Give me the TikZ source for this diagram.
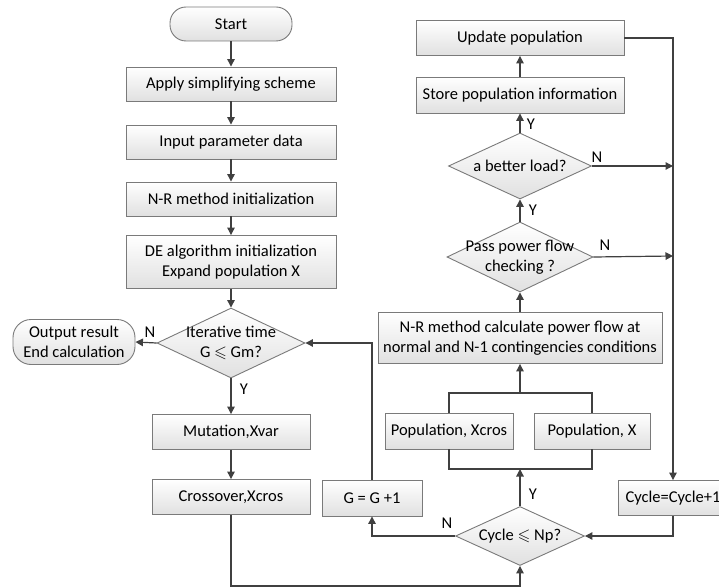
\documentclass[tikz,border=0pt]{standalone}
\usepackage{amssymb}
\usepackage{fontspec}
\setmainfont{Carlito}
\usetikzlibrary{arrows.meta,shapes.geometric}
\definecolor{lnc}{HTML}{404040}
\definecolor{bdc}{HTML}{7A7A7A}
\tikzset{
  box/.style={draw=bdc, line width=0.9pt, top color=white, bottom color=black!12, inner sep=0pt, align=center, font=\fontsize{16.5}{19.5}\selectfont},
  rbox/.style={box, rounded corners=16pt},
  dia/.style={draw=bdc, line width=0.9pt, diamond, top color=white, bottom color=black!12, inner sep=0pt, shape aspect=2},
  dtext/.style={align=center, inner sep=0pt, font=\fontsize{16.5}{19.5}\selectfont},
  lab/.style={inner sep=0pt, font=\fontsize{16.5}{19.5}\selectfont},
  conn/.style={draw=lnc, line width=1.2pt},
  arr/.style={conn, -{Triangle[length=7.5pt,width=7.5pt]}}
}
\begin{document}
\begin{tikzpicture}[x=1pt,y=-1pt]
\useasboundingbox (0,0) rectangle (719,588);
\clip (0,0) rectangle (719,588);
% left column
\node[rbox, minimum width=122pt, minimum height=34pt] (start) at (231,24) {Start};
\node[box, minimum width=210pt, minimum height=34pt] (apply) at (231,84) {Apply simplifying scheme};
\node[box, minimum width=210pt, minimum height=34pt] (input) at (231,142) {Input parameter data};
\node[box, minimum width=210pt, minimum height=34pt] (nrinit) at (231,199) {N-R method initialization};
\node[box, minimum width=210pt, minimum height=53pt] (de) at (231,262) {DE algorithm initialization\\Expand population X};
\node[dia, minimum width=148pt, minimum height=70pt] (iter) at (231,343) {};
\node[dtext] (itert) at (iter.center) {Iterative time\\G \(\leqslant\) Gm?};
\node[rbox, minimum width=122pt, minimum height=45pt, rounded corners=18pt] (out) at (74,342) {Output result\\End calculation};
\node[box, minimum width=158pt, minimum height=35pt] (mut) at (231,432) {Mutation,Xvar};
\node[box, minimum width=158pt, minimum height=35pt] (cross) at (231,497) {Crossover,Xcros};
\node[box, minimum width=100pt, minimum height=36pt] (gplus) at (372,498) {G = G +1};
% right column
\node[dia, minimum width=129pt, minimum height=59pt] (cyc) at (520,536) {};
\node[dtext] (cyct) at (cyc.center) {Cycle \(\leqslant\) Np?};
\node[box, minimum width=128pt, minimum height=36pt] (popa) at (449,431) {Population, Xcros};
\node[box, minimum width=116pt, minimum height=36pt] (popb) at (592,431) {Population, X};
\node[box, minimum width=284pt, minimum height=51pt] (nrcalc) at (520,338) {N-R method calculate power flow at\\normal and N-1 contingencies conditions};
\node[dia, minimum width=146pt, minimum height=70pt] (pass) at (520,257) {};
\node[dtext] (passt) at (pass.center) {Pass power flow\\checking ?};
\node[dia, minimum width=143pt, minimum height=66pt] (better) at (520,166) {};
\node[dtext] (bettert) at (better.center) {a better load?};
\node[box, minimum width=208pt, minimum height=36pt] (store) at (520,95) {Store population information};
\node[box, minimum width=208pt, minimum height=35pt] (update) at (520,38) {Update population};
\node[box, minimum width=110pt, minimum height=35pt] (cycp) at (673,498) {Cycle=Cycle+1};
% coordinates
\coordinate (btop) at (520,393);
\coordinate (bbot) at (520,469);
\coordinate (pa) at (673,256);
\coordinate (ba) at (673,166);
\coordinate (low) at (231,586);
% connectors left
\draw[arr] (start) -- (apply);
\draw[arr] (apply) -- (input);
\draw[arr] (input) -- (nrinit);
\draw[arr] (nrinit) -- (de);
\draw[arr] (de) -- (iter.north);
\draw[arr] (iter.west) -- (out.east);
\draw[arr] (iter.south) -- (mut);
\draw[arr] (mut) -- (cross);
\draw[arr] (cross.south) -- (low) -| (cyc.south);
\draw[arr] (gplus.north) |- (iter.east);
\draw[arr] (cyc.west) -| (gplus.south);
% connectors right
\draw[arr] (cyc.north) -- (bbot);
\draw[conn] (popa.south) |- (bbot) -| (popb.south);
\draw[conn] (popa.north) |- (btop) -| (popb.north);
\draw[arr] (btop) -- (nrcalc.south);
\draw[arr] (nrcalc.north) -- (pass.south);
\draw[arr] (pass.north) -- (better.south);
\draw[arr] (better.north) -- (store.south);
\draw[arr] (store.north) -- (update.south);
\draw[arr] (pass.east) -- (pa);
\draw[arr] (better.east) -- (ba);
\draw[arr] (update.east) -| (cycp.north);
\draw[arr] (cycp.south) |- (cyc.east);
% labels
\node[lab] (ln1) at (150,332) {N};
\node[lab] (ly1) at (244,389) {Y};
\node[lab] (ln2) at (447,523) {N};
\node[lab] (ly2) at (533,494) {Y};
\node[lab] (ln3) at (605,245) {N};
\node[lab] (ly3) at (533,210) {Y};
\node[lab] (ln4) at (597,157) {N};
\node[lab] (ly4) at (531,124) {Y};
\end{tikzpicture}
\end{document}
